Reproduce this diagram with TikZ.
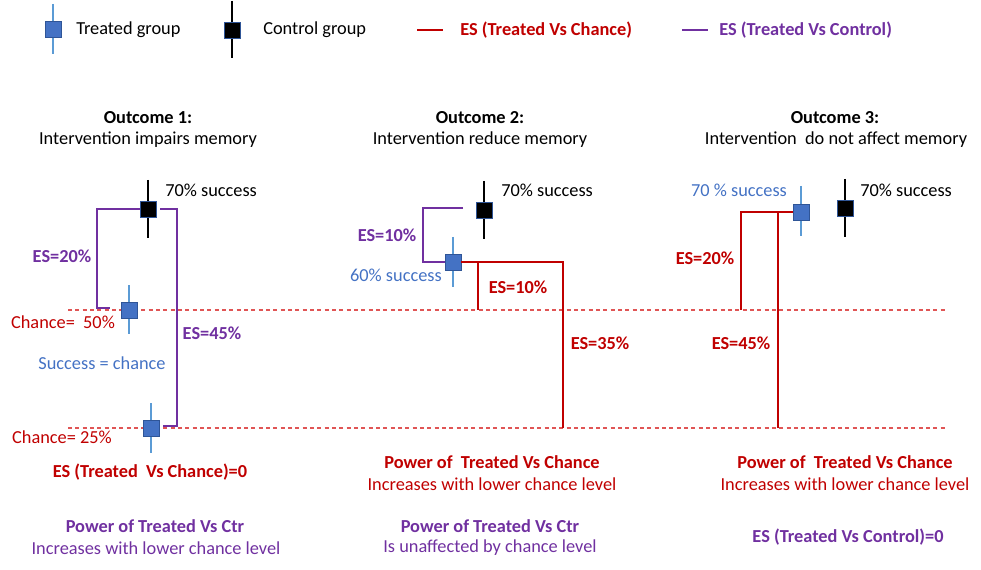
\documentclass[tikz,border=0pt]{standalone}
\usepackage{fontspec}
\setmainfont{Carlito}
\usetikzlibrary{positioning}

\definecolor{esred}{HTML}{C00000}
\definecolor{espurp}{HTML}{7030A0}
\definecolor{tblue}{HTML}{4472C4}
\definecolor{tedge}{HTML}{2F5597}
\definecolor{wblue}{HTML}{5B9BD5}
\definecolor{dashred}{HTML}{E05555}

\tikzset{
  treated/.style={rectangle, fill=tblue, draw=tedge, line width=0.6pt, minimum size=12pt, inner sep=0pt},
  control/.style={treated, fill=black},
  twhisk/.style={draw=wblue, line width=1.1pt},
  cwhisk/.style={draw=black, line width=1.1pt},
  redline/.style={draw=esred, line width=1.5pt},
  purpline/.style={draw=espurp, line width=1.5pt},
  chance/.style={draw=dashred, dash pattern=on 3pt off 2.5pt, line width=0.8pt},
  lbl/.style={font=\fontsize{13.75}{16}\selectfont, inner sep=0pt},
  eslbl/.style={lbl, font=\fontsize{13.75}{16}\selectfont\bfseries},
}

\begin{document}
\begin{tikzpicture}[x=0.75pt,y=-0.75pt]
\useasboundingbox (0,0) rectangle (981,570);

% legend
\draw[twhisk] (53,4) -- (53,54);
\node[treated] (legT) at (53,29) {};
\node[lbl, anchor=west] (legTtxt) at (76,30) {Treated group};
\draw[cwhisk] (232,1) -- (232,58);
\node[control] (legC) at (232,30) {};
\node[lbl, anchor=west] (legCtxt) at (263,30) {Control group};
\coordinate (legR1) at (417,30);
\coordinate (legR2) at (443,30);
\draw[redline] (legR1) -- (legR2);
\node[eslbl, text=esred, anchor=west] (legRtxt) at (460,30) {ES (Treated Vs Chance)};
\coordinate (legP1) at (682,30);
\coordinate (legP2) at (708,30);
\draw[purpline] (legP1) -- (legP2);
\node[eslbl, text=espurp, anchor=west] (legPtxt) at (719,30) {ES (Treated Vs Control)};

% headers
\node[eslbl] (out1) at (148,118) {Outcome 1:};
\node[lbl] (out1txt) at (148,140) {Intervention impairs memory};
\node[eslbl] (out2) at (480,118) {Outcome 2:};
\node[lbl] (out2txt) at (480,140) {Intervention reduce memory};
\node[eslbl] (out3) at (835,118) {Outcome 3:};
\node[lbl] (out3txt) at (836,140) {Intervention\ \ do not affect memory};

% chance levels
\coordinate (ch50a) at (68,310);
\coordinate (ch50b) at (945,310);
\coordinate (ch25a) at (68,428);
\coordinate (ch25b) at (945,428);
\draw[chance] (ch50a) -- (ch50b);
\draw[chance] (ch25a) -- (ch25b);

% outcome 1
\draw[cwhisk] (148,180) -- (148,238);
\node[control] (c1) at (148,209) {};
\draw[twhisk] (129,285) -- (129,334);
\node[treated] (t1a) at (129,310) {};
\draw[twhisk] (151,403) -- (151,453);
\node[treated] (t1b) at (151,428) {};
\coordinate (es20a) at (97,308);
\coordinate (es20b) at (110,308);
\draw[purpline, line width=1.1pt] (c1.west) -| (es20a) -- (es20b);
\coordinate (es45) at (177,426);
\draw[purpline] ([xshift=3pt]c1.east) -| (es45) -- ([xshift=3pt]t1b.east |- es45);
\node[lbl, anchor=west] (c1txt) at (165,190) {70\% success};
\node[eslbl, text=espurp] (es20txt) at (62,256) {ES=20\%};
\node[eslbl, text=espurp] (es45txt) at (212,333) {ES=45\%};
\node[lbl, text=esred] (ch50txt) at (63,322) {Chance=\ \ 50\%};
\node[lbl, text=tblue] (succtxt) at (102,363) {Success = chance};
\node[lbl, text=esred] (ch25txt) at (62,437) {Chance= 25\%};
\node[eslbl, text=esred] (res1a) at (150,472) {ES (Treated\ \ Vs Chance)=0};
\node[eslbl, text=espurp] (res1b) at (155,526) {Power of Treated Vs Ctr};
\node[lbl, text=espurp] (res1c) at (156,548) {Increases with lower chance level};

% outcome 2
\draw[cwhisk] (484,181) -- (484,239);
\node[control] (c2) at (484,210) {};
\draw[twhisk] (453,237) -- (453,287);
\node[treated] (t2) at (453,262) {};
\coordinate (p2a) at (463,208);
\coordinate (p2b) at (423,262);
\draw[purpline] (p2a) -| (p2b) -- (t2.west);
\coordinate (r2a) at (478,310);
\coordinate (r2b) at (563,428);
\draw[redline] (t2.east) -| (r2b);
\draw[redline] (r2a |- t2.east) -- (r2a);
\node[lbl, anchor=west] (c2txt) at (501,190) {70\% success};
\node[lbl, text=tblue, anchor=east] (t2txt) at (442,275) {60\% success};
\node[eslbl, text=espurp] (es10p) at (387,235) {ES=10\%};
\node[eslbl, text=esred] (es10r) at (518,287) {ES=10\%};
\node[eslbl, text=esred] (es35r) at (600,343) {ES=35\%};
\node[eslbl, text=esred] (res2a) at (492,462) {Power of\ \ Treated Vs Chance};
\node[lbl, text=esred] (res2b) at (492,484) {Increases with lower chance level};
\node[eslbl, text=espurp] (res2c) at (490,526) {Power of Treated Vs Ctr};
\node[lbl, text=espurp] (res2d) at (490,548) {Is unaffected by chance level};

% outcome 3
\draw[twhisk] (801,186) -- (801,236);
\node[treated] (t3) at (801,212) {};
\draw[cwhisk] (845,179) -- (845,237);
\node[control] (c3) at (845,208) {};
\coordinate (r3a) at (741,310);
\coordinate (r3b) at (778,428);
\draw[redline] (t3.west) -| (r3a);
\draw[redline] (r3b |- t3.west) -- (r3b);
\node[lbl, text=tblue] (t3txt) at (739,190) {70 \% success};
\node[lbl, anchor=west] (c3txt) at (860,190) {70\% success};
\node[eslbl, text=esred] (es20r) at (705,258) {ES=20\%};
\node[eslbl, text=esred] (es45r) at (741,343) {ES=45\%};
\node[eslbl, text=esred] (res3a) at (845,462) {Power of\ \ Treated Vs Chance};
\node[lbl, text=esred] (res3b) at (845,484) {Increases with lower chance level};
\node[eslbl, text=espurp] (res3c) at (848,537) {ES (Treated Vs Control)=0};
\end{tikzpicture}
\end{document}
